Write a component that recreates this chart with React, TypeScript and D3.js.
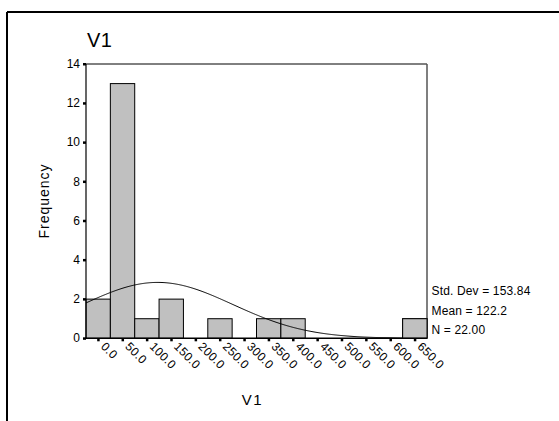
import React from "react";
import * as d3 from "d3";

const binCenters = [0, 50, 100, 150, 200, 250, 300, 350, 400, 450, 500, 550, 600, 650];
const frequencies = [2, 13, 1, 2, 0, 1, 0, 1, 1, 0, 0, 0, 0, 1];
const yTicks = [0, 2, 4, 6, 8, 10, 12, 14];
const stats = { sd: 153.84, mean: 122.2, n: 22 };
const binWidth = 50;

const W = 559, H = 421;
const left = 86, right = 427, top = 64, bottom = 338.3;

export default function App() {
  const x = d3.scaleLinear().domain([-25, 675]).range([left, right]);
  const y = d3.scaleLinear().domain([0, 14]).range([bottom, top]);
  const font = "Liberation Sans, Arial, sans-serif";

  const pdf = (v: number) =>
    (stats.n * binWidth) / (stats.sd * Math.sqrt(2 * Math.PI)) *
    Math.exp(-0.5 * ((v - stats.mean) / stats.sd) ** 2);
  const curveXs = d3.range(-25, 675.01, 2);
  const line = d3.line<number>().x((v) => x(v)).y((v) => y(pdf(v)));

  const barRect = (i: number, key: string) => (
    <rect
      key={key}
      x={x(binCenters[i] - binWidth / 2)}
      y={y(frequencies[i])}
      width={x(binCenters[i] + binWidth / 2) - x(binCenters[i] - binWidth / 2)}
      height={bottom - y(frequencies[i])}
      fill="#c0c0c0"
      stroke="#000"
      strokeWidth={1}
    />
  );

  return (
    <svg width={W} height={H} style={{ position: "absolute", left: 0, top: 0 }} fontFamily={font}>
      <rect x={0} y={0} width={W} height={H} fill="#fff" />
      {/* outer frame */}
      <line x1={7} y1={12} x2={W} y2={12} stroke="#000" strokeWidth={2} />
      <line x1={7} y1={12} x2={7} y2={H} stroke="#000" strokeWidth={2} />

      <text x={87} y={46.5} fontSize={20} letterSpacing={0.5}>V1</text>

      {/* plot frame */}
      <line x1={left} y1={top} x2={right} y2={top} stroke="#000" strokeWidth={1} />
      <line x1={right} y1={top} x2={right} y2={bottom} stroke="#555" strokeWidth={1.5} />

      {/* bars */}
      {frequencies.map((f, i) => (f > 0 ? barRect(i, "b" + i) : null))}

      {/* normal curve */}
      <path d={line(curveXs) || ""} fill="none" stroke="#000" strokeWidth={1} />
      {/* last bar on top hides the curve tail */}
      {frequencies.map((f, i) =>
        i === frequencies.length - 1 && f > 0 ? barRect(i, "t" + i) : null
      )}

      {/* axes */}
      <line x1={left} y1={top} x2={left} y2={bottom} stroke="#000" strokeWidth={1.2} />
      <line x1={left} y1={bottom} x2={right} y2={bottom} stroke="#000" strokeWidth={1.5} />

      {yTicks.map((t) => (
        <g key={t}>
          <rect x={left - 3} y={y(t) - 1} width={3} height={2.5} fill="#000" />
          <text x={left - 6} y={y(t) + 4} fontSize={12} textAnchor="end">{t}</text>
        </g>
      ))}

      {binCenters.map((c) => (
        <g key={c}>
          <rect x={x(c) - 1} y={bottom} width={2.5} height={3} fill="#000" />
          <text
            transform={`translate(${x(c) + 2},${bottom + 9}) rotate(45)`}
            fontSize={12}
            letterSpacing={0.3}
          >
            {c.toFixed(1)}
          </text>
        </g>
      ))}

      <text transform={`translate(49,201) rotate(-90)`} fontSize={14} letterSpacing={1} textAnchor="middle">Frequency</text>
      <text x={252.5} y={405} fontSize={15} letterSpacing={1.5} textAnchor="middle">V1</text>

      <text x={431.5} y={295} fontSize={12} letterSpacing={0.15}>Std. Dev = {stats.sd.toFixed(2)}</text>
      <text x={431.5} y={314.5} fontSize={12} letterSpacing={0.15}>Mean = {stats.mean.toFixed(1)}</text>
      <text x={431.5} y={334} fontSize={12} letterSpacing={0.15}>N = {stats.n.toFixed(2)}</text>
    </svg>
  );
}
